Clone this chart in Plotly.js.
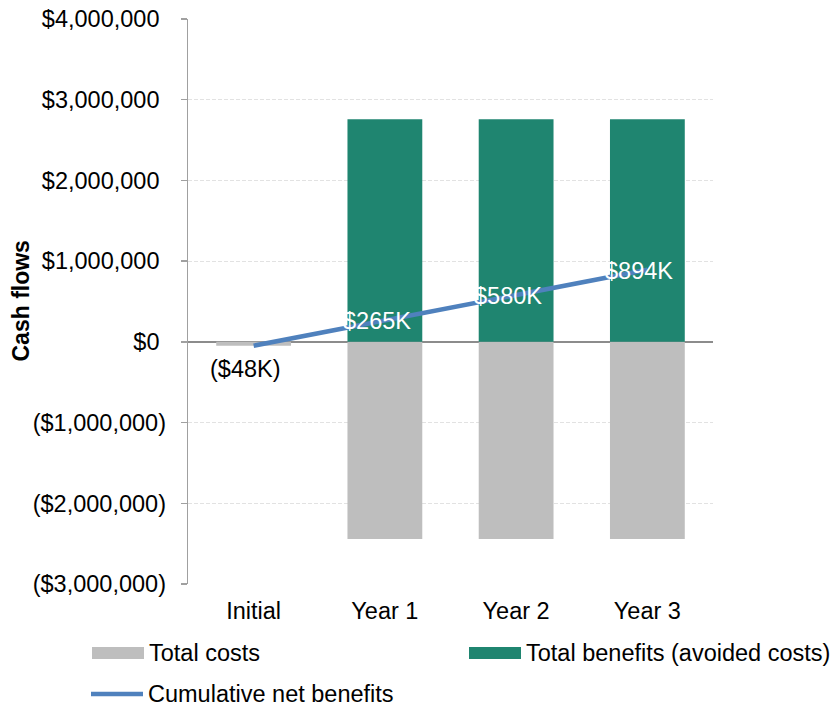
<!DOCTYPE html>
<html>
<head>
<meta charset="utf-8">
<script src="https://cdn.plot.ly/plotly-3.0.1.min.js"></script>
<style>html,body{margin:0;padding:0;background:#fff;}#chart{width:839px;height:706px;}</style>
</head>
<body>
<div id="chart"></div>
<script>
// ---- data ----
const categories = ["Initial", "Year 1", "Year 2", "Year 3"];
const totalCosts = [-48000, -2443000, -2443000, -2443000];
const totalBenefits = [0, 2757000, 2757000, 2757000];
const cumulativeNet = [-48000, 265000, 580000, 894000];
const cumulativeLabels = ["($48K)", "$265K", "$580K", "$894K"];
const yTickVals = [-3000000, -2000000, -1000000, 0, 1000000, 2000000, 3000000, 4000000];
const yTickText = ["($3,000,000)", "($2,000,000)", "($1,000,000)", "$0", "$1,000,000", "$2,000,000", "$3,000,000", "$4,000,000"];
const seriesNames = ["Total costs", "Total benefits (avoided costs)", "Cumulative net benefits"];

// ---- styles ----
const FONT = "Liberation Sans, Arial, sans-serif";
const FS = 23.5;
const GRAY = "#BEBEBE", GREEN = "#1F8570", BLUE = "#4F81BD";
const W = 839, H = 706, M = {l: 188, r: 126, t: 19, b: 122};
const PW = W - M.l - M.r, PH = H - M.t - M.b;
const px = x => (x - M.l) / PW;
const py = y => (H - M.b - y) / PH;

// accounting-style alignment: non-negative labels get a trailing space where ")" would be
const yTickDisplay = yTickText.map((t, i) => yTickVals[i] >= 0 ? t + "\u00a0" : t);

const traces = [
  {type: "bar", name: seriesNames[0], x: categories, y: totalCosts, marker: {color: GRAY}, showlegend: false, hoverinfo: "skip"},
  {type: "bar", name: seriesNames[1], x: categories, y: totalBenefits, marker: {color: GREEN}, showlegend: false, hoverinfo: "skip"},
  {type: "scatter", mode: "lines", name: seriesNames[2], x: categories, y: cumulativeNet, line: {color: BLUE, width: 4.5}, showlegend: false, hoverinfo: "skip"}
];

const annotations = categories.map((c, i) => ({
  x: c, y: cumulativeNet[i], xref: "x", yref: "y",
  text: cumulativeLabels[i], showarrow: false,
  xshift: -8, yshift: cumulativeNet[i] < 0 ? -23 : -1,
  font: {family: FONT, size: FS, color: cumulativeNet[i] < 0 ? "#000" : "#fff"}
}));

// custom legend
const legendItems = [
  {name: seriesNames[0], kind: "box", color: GRAY, x0: 92, x1: 144, y: 653},
  {name: seriesNames[1], kind: "box", color: GREEN, x0: 469, x1: 521, y: 653},
  {name: seriesNames[2], kind: "line", color: BLUE, x0: 91, x1: 143, y: 694}
];
const shapes = [];
legendItems.forEach(it => {
  if (it.kind === "box") {
    shapes.push({type: "rect", xref: "paper", yref: "paper", x0: px(it.x0), x1: px(it.x1), y0: py(it.y - 6), y1: py(it.y + 6), fillcolor: it.color, line: {width: 0}});
  } else {
    shapes.push({type: "line", xref: "paper", yref: "paper", x0: px(it.x0), x1: px(it.x1), y0: py(it.y), y1: py(it.y), line: {color: it.color, width: 4.5}});
  }
  annotations.push({xref: "paper", yref: "paper", x: px(it.x1 + 3), y: py(it.y), xanchor: "left", yanchor: "middle", showarrow: false, text: it.name, font: {family: FONT, size: FS, color: "#000"}});
});

// y-axis title as rotated annotation
annotations.push({xref: "paper", yref: "paper", x: px(20), y: 0.5, xanchor: "center", yanchor: "middle", textangle: -90, showarrow: false, text: "<b>Cash flows</b>", font: {family: FONT, size: 23, color: "#000"}});

const layout = {
  width: W, height: H, margin: M,
  paper_bgcolor: "#fff", plot_bgcolor: "#fff",
  font: {family: FONT, size: FS, color: "#000"},
  barmode: "relative", bargap: 0.43,
  showlegend: false,
  xaxis: {type: "category", showline: false, showgrid: false, zeroline: false, ticks: "", ticklabelstandoff: 10, tickfont: {family: FONT, size: FS, color: "#000"}, fixedrange: true},
  yaxis: {
    range: [-3000000, 4000000], tickvals: yTickVals, ticktext: yTickDisplay,
    showline: true, linecolor: "#A0A0A0", linewidth: 1.3,
    ticks: "outside", ticklen: 6, tickcolor: "#A0A0A0", tickwidth: 1.3,
    ticklabelstandoff: 10,
    showgrid: true, gridcolor: "#E2E2E2", gridwidth: 1, griddash: "4px,2px",
    zeroline: true, zerolinecolor: "#8C8C8C", zerolinewidth: 1.6,
    tickfont: {family: FONT, size: FS, color: "#000"},
    automargin: false, fixedrange: true
  },
  annotations: annotations,
  shapes: shapes
};

Plotly.newPlot("chart", traces, layout, {displayModeBar: false, staticPlot: true});
</script>
</body>
</html>
